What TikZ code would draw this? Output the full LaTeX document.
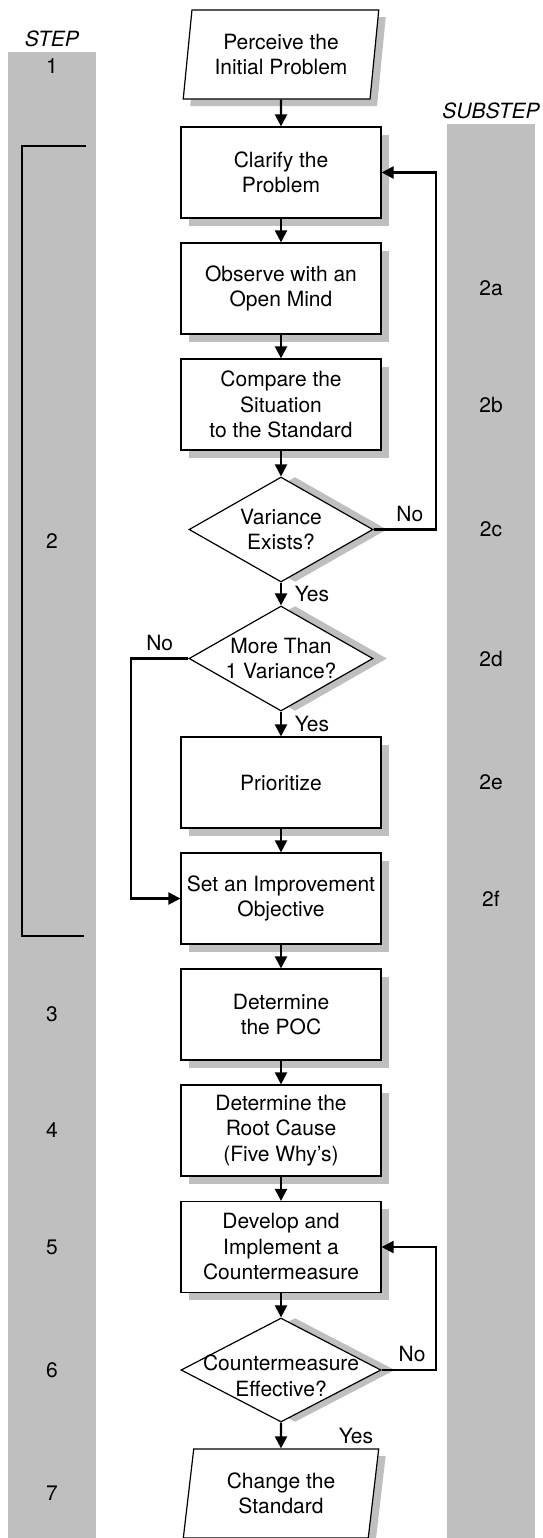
\documentclass[tikz,border=0pt]{standalone}
\usepackage{fontspec}
\setmainfont{TeX Gyre Heros}
\usetikzlibrary{arrows.meta,calc,positioning,shapes.geometric,shadows}
\definecolor{bandgray}{gray}{0.75}
\tikzset{
  proc/.style={rectangle,draw,line width=0.6pt,fill=white,align=center,
    minimum width=100pt,minimum height=45.5pt,inner sep=2pt,
    drop shadow={shadow xshift=3.75pt,shadow yshift=-3.75pt,fill=bandgray,opacity=1}},
  io/.style={trapezium,trapezium left angle=82,trapezium right angle=98,
    trapezium stretches=true,draw,line width=0.6pt,fill=white,align=center,
    minimum width=98pt,minimum height=44.5pt,inner sep=2pt,
    drop shadow={shadow xshift=3.5pt,shadow yshift=-3.5pt,fill=bandgray,opacity=1}},
  dec/.style={diamond,draw,line width=0.6pt,fill=white,inner sep=0pt,
    minimum width=92pt,minimum height=52.5pt,
    drop shadow={shadow xshift=7pt,shadow yshift=0pt,fill=bandgray,opacity=1}},
  flow/.style={-{Triangle[length=6pt,width=6pt]},line width=1.1pt},
  band/.style={fill=bandgray,draw=none},
  brk/.style={line width=1.3pt},
  head/.style={font=\fontsize{10.5}{12.75}\selectfont\itshape},
  every node/.style={font=\fontsize{10.5}{12.75}\selectfont}
}

\begin{document}
\begin{tikzpicture}[x=0.5pt,y=-0.5pt]
\useasboundingbox (0,0) rectangle (542,1538);
% gray columns
\fill[band] (8,52) rectangle (96,1538);
\fill[band] (447,124) rectangle (535,1538);
\node[head] (stephd) at (52,39) {STEP};
\node[head] (subhd) at (491,111) {SUBSTEP};
% step numbers
\node (n1) at (52,66) {1};
\node (n2) at (52,541) {2};
\node (n3) at (52,1014.5) {3};
\node (n4) at (52,1130.5) {4};
\node (n5) at (52,1247) {5};
\node (n6) at (52,1370) {6};
\node (n7) at (52,1493) {7};
% bracket of step 2
\draw[brk] (86,146) -- (22,146) -- (22,936) -- (84,936);
% substeps
\node (s2a) at (491,288.5) {2a};
\node (s2b) at (491,404.5) {2b};
\node (s2c) at (491,529.5) {2c};
\node (s2d) at (491,658.5) {2d};
\node (s2e) at (491,782.5) {2e};
\node (s2f) at (491,898.5) {2f};

% the flow
\node[io] (perc) at (281,54.5) {Perceive the\\Initial Problem};
\node[proc] (clar) at (281,172.5) {Clarify the\\Problem};
\node[proc] (obs) at (281,288.5) {Observe with an\\Open Mind};
\node[proc] (cmp) at (281,404.5) {Compare the\\Situation\\to the Standard};
\node[dec,label={[align=center]center:Variance\\Exists?}] (var) at (281,529.5) {};
\node[dec,label={[align=center]center:More Than\\1 Variance?}] (more) at (281,658.5) {};
\node[proc] (prio) at (281,782.5) {Prioritize};
\node[proc] (set) at (281,898.5) {Set an Improvement\\Objective};
\node[proc] (poc) at (281,1014.5) {Determine\\the POC};
\node[proc] (root) at (281,1130.5) {Determine the\\Root Cause\\(Five Why’s)};
\node[proc] (dev) at (281,1247) {Develop and\\Implement a\\Countermeasure};
\node[dec,minimum width=100pt,minimum height=52pt,
  label={[align=center,yshift=-3pt]center:Countermeasure\\Effective?}] (eff) at (281,1370) {};
\node[io] (chg) at (281,1493.5) {Change the\\Standard};

% loop lines
\coordinate (rt) at (436,0);
\coordinate (lft) at (131,0);

\draw[flow] (perc) -- (clar);
\draw[flow] (clar) -- (obs);
\draw[flow] (obs) -- (cmp);
\draw[flow] (cmp) -- (var);
\draw[flow] (var) -- node[right=3pt] {Yes} (more);
\draw[flow] (more) -- node[right=3pt] {Yes} (prio);
\draw[flow] (prio) -- (set);
\draw[flow] (set) -- (poc);
\draw[flow] (poc) -- (root);
\draw[flow] (root) -- (dev);
\draw[flow] (dev) -- (eff);
\draw[flow] (eff) -- node[right=25pt] {Yes} (chg);
\draw[flow] (var.east) -| node[above,pos=0.29] {No} (rt |- clar.east) -- (clar.east);
\draw[flow] (more.west) -| node[above,pos=0.25] {No} (lft |- set.west) -- (set.west);
\draw[flow] (eff.east) -| node[above,pos=0.28] {No} (rt |- dev.east) -- (dev.east);
\end{tikzpicture}
\end{document}
